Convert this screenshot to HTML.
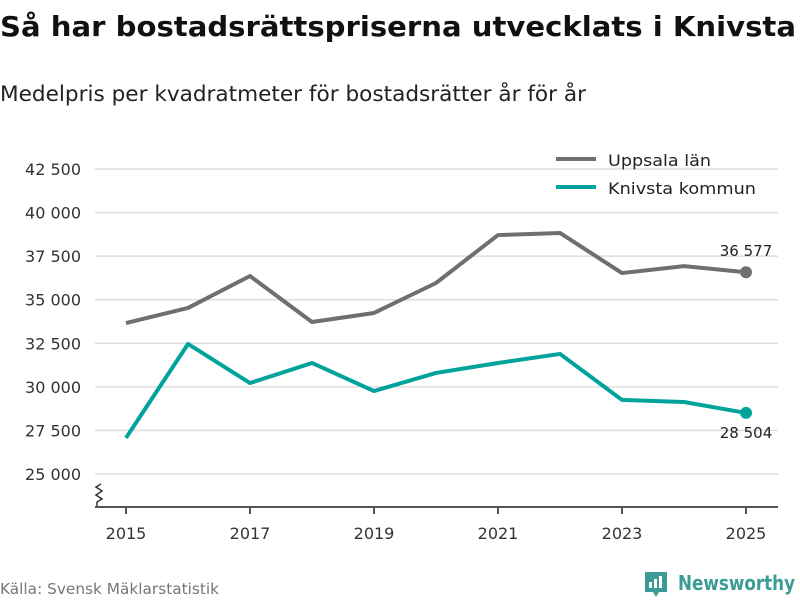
<!DOCTYPE html>
<html><head><meta charset="utf-8"><style>
body{margin:0;width:800px;height:600px;background:#fff;font-family:"DejaVu Sans","Liberation Sans",sans-serif;overflow:hidden}
</style></head><body>
<svg width="800" height="600" id="chart" xmlns="http://www.w3.org/2000/svg" font-family="DejaVu Sans, Liberation Sans, sans-serif">
<text x="0" y="36" font-size="28" font-weight="bold" fill="#111" textLength="796" lengthAdjust="spacingAndGlyphs">Så har bostadsrättspriserna utvecklats i Knivsta</text>
<text x="0" y="101" font-size="21" fill="#222" textLength="586" lengthAdjust="spacingAndGlyphs">Medelpris per kvadratmeter för bostadsrätter år för år</text>
<g id="grid"></g><g id="series"></g>
<g>
<line x1="556" y1="159" x2="596" y2="159" stroke="#6e6e73" stroke-width="4"/>
<text x="608" y="166" font-size="16" fill="#222" textLength="103" lengthAdjust="spacingAndGlyphs">Uppsala län</text>
<line x1="556" y1="187" x2="596" y2="187" stroke="#00a39b" stroke-width="4"/>
<text x="608" y="194" font-size="16" fill="#222" textLength="148" lengthAdjust="spacingAndGlyphs">Knivsta kommun</text>
</g>
<path d="M101,484 l-5,3 l6,4 l-6,4 l6,4 l-5,3 l0,5" fill="none" stroke="#333" stroke-width="1.5"/>
<line x1="95" y1="507" x2="778" y2="507" stroke="#555" stroke-width="2"/>
<text x="0" y="594" font-size="15" fill="#777" textLength="219" lengthAdjust="spacingAndGlyphs">Källa: Svensk Mäklarstatistik</text>
<g>
<path d="M645,572 h22 v20 h-8 l-3,5 l-3,-5 h-8z" fill="#3a9c94"/>
<rect x="649" y="582" width="3" height="6" fill="#fff"/><rect x="654" y="579" width="3" height="9" fill="#fff"/><rect x="659" y="576" width="3" height="12" fill="#fff"/>
<text x="678" y="590" font-size="20" font-weight="bold" fill="#3a9c94" textLength="117" lengthAdjust="spacingAndGlyphs">Newsworthy</text>
</g>
</svg>
<script>
const years=[2015,2016,2017,2018,2019,2020,2021,2022,2023,2024,2025];
const uppsala=[33660,34530,36360,33720,34240,35960,38710,38830,36530,36930,36577];
const knivsta=[27070,32460,30220,31370,29760,30800,31370,31890,29250,29130,28504];
const yTicks=[25000,27500,30000,32500,35000,37500,40000,42500];
const xTicks=[2015,2017,2019,2021,2023,2025];
const NS="http://www.w3.org/2000/svg";
const x=v=>126+(v-2015)*62;
const y=v=>474-(v-25000)/2500*43.57;
const fmt=v=>String(v).replace(/\B(?=(\d{3})+(?!\d))/g," ");
function mk(t,a,p){const e=document.createElementNS(NS,t);for(const k in a)e.setAttribute(k,a[k]);p.appendChild(e);return e;}
const g=document.getElementById('grid'),s=document.getElementById('series');
yTicks.forEach(v=>{
 const l=mk('line',{x1:95,x2:778,y1:y(v),y2:y(v),stroke:'#ddd','stroke-width':1.5},g);
 
 
 const t=mk('text',{x:81,y:y(v)+6,'text-anchor':'end','font-size':16,fill:'#333'},g);t.textContent=fmt(v);
 
 
});
xTicks.forEach(v=>{
 const l=mk('line',{x1:x(v),x2:x(v),y1:507,y2:514,stroke:'#555','stroke-width':2},g);
 
 
 const t=mk('text',{x:x(v),y:539,'text-anchor':'middle','font-size':16,fill:'#333'},g);t.textContent=v;
 
 
});
function line(vals,col,name,labelDy){
 const p=mk('polyline',{points:vals.map((v,i)=>x(years[i])+','+y(v)).join(' '),fill:'none',stroke:col,'stroke-width':4,'stroke-linejoin':'round'},s);
 
 
 const n=vals.length-1;
 const c=mk('circle',{cx:x(years[n]),cy:y(vals[n]),r:6,fill:col},s);
 
 
 const t=mk('text',{x:x(years[n]),y:y(vals[n])+labelDy,'text-anchor':'middle','font-size':15,fill:'#222'},s);t.textContent=fmt(vals[n]);
 
 
}
line(uppsala,'#6e6e73','uppsala',-16);
line(knivsta,'#00a39b','knivsta',25);
</script>
</body></html>
